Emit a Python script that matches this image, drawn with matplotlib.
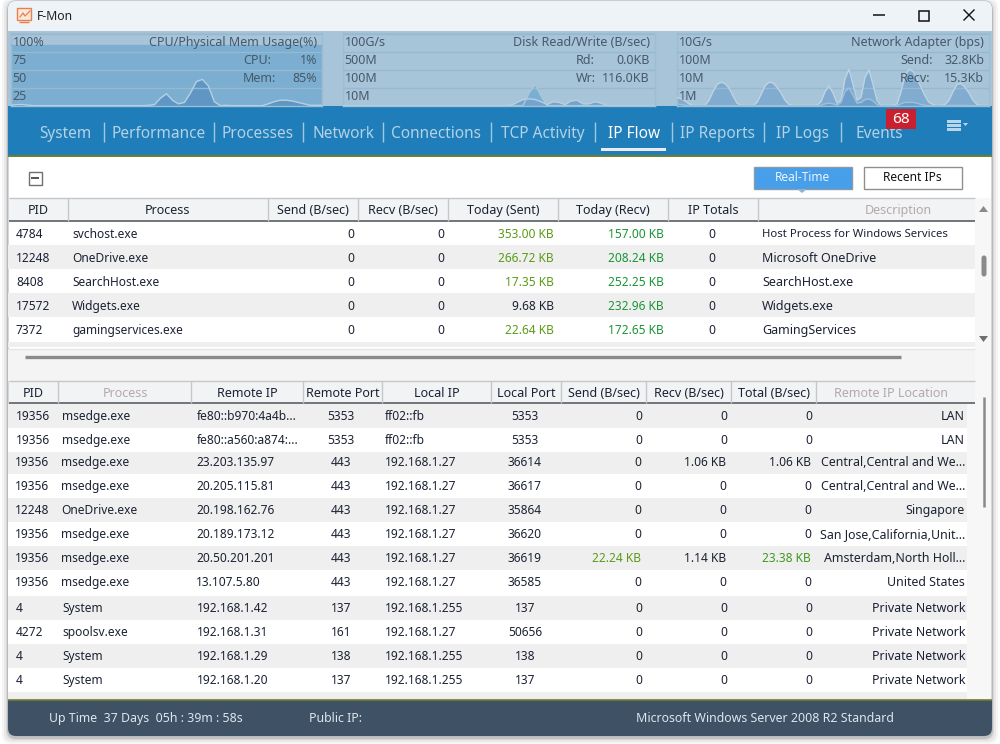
import matplotlib
matplotlib.use("Agg")
import matplotlib.pyplot as plt
from matplotlib.patches import Rectangle, FancyBboxPatch, Polygon
import numpy as np

plt.rcParams['font.family'] = ['Noto Sans', 'DejaVu Sans']

# ---------- data ----------
cpu_usage = [1,2,2,1,0.5,0.5,0.5,0.5,0.5,0.5,0.5,0.5,0.5,0.5,0.5,0.5,0.5,0.5,0.5,0.5,0.5,0.5,0.5,1,
             2,11,17,8,3,5,18,34,37,28,6,0.5,1,0.5,0.5,0.5,0.5,0.5,0.5,3,6,8,8,7,5,3,1,1,1]
mem_usage = [85,85,85,85,85,85,85,85,85,85,85,85,85,85,85,85,85,85,85,85,85,85,85,85,85,85,
             85,85,85,85,85,85,85,85,85,85,85,85,85,85,85,85,85,85,85,85,85,85,85,85,85,85,85]
disk_read = [0.5,0.5,0.5,0.5,0.5,0.5,0.5,0.5,0.5,0.5,0.5,0.5,0.5,0.5,0.5,0.5,0.5,0.5,0.5,0.5,0.5,0.5,0.5,0.5,0.5,0.5,0.5,0.5,
             0.5,0.5,0.5,18,30,14,0.5,0.5,0.5,0.5,0.5,0.5,0.5,0.5,0.5,0.5,0.5,0.5,0.5,0.5,0.5,0.5,0.5,0.5,0.5]
disk_write = [0.5,0.5,0.5,0.5,0.5,0.5,0.5,0.5,0.5,0.5,0.5,0.5,0.5,0.5,0.5,0.5,0.5,0.5,0.5,0.5,0.5,0.5,0.5,0.5,0.5,0.5,0.5,0.5,
              1,5,9,10,9,6,2,6,5,2,7,8,3,3,6,4,0.5,0.5,0.5,0.5,0.5,0.5,0.5,0.5,0.5]
net_send = [12,10,7,3,1,1,0.5,1,8,20,30,33,31,25,14,4,1,1,0.5,1,5,16,28,33,32,26,18,8,2,1,1,1,1,1,1,1,
            6,20,28,18,4,8,38,51,30,8,12,40,50,30,8,1,1,1,1,3,20,42,51,48,38,26,14,5,2,1,1,2,8,20,30,31,26,18,8,2,1,1,1]
net_recv = [3,2,1,0.5,0.5,0.5,0.5,0.5,0.5,0.5,0.5,0.5,0.5,0.5,0.5,0.5,0.5,0.5,0.5,0.5,0.5,0.5,0.5,0.5,0.5,0.5,0.5,0.5,0.5,0.5,0.5,0.5,0.5,0.5,0.5,0.5,
            1,3,4,3,1,5,20,25,15,4,5,9,10,7,2,0.5,0.5,0.5,0.5,0.5,3,5,5,5,4,2,1,0.5,0.5,0.5,0.5,0.5,1,1,1,1,1,0.5,0.5,0.5,0.5,0.5,0.5]
cpu_ticks = ["100%", "75", "50", "25"]
disk_ticks = ["100G/s", "500M", "100M", "10M"]
net_ticks = ["10G/s", "100M", "10M", "1M"]
nav_tabs = ["System", "Performance", "Processes", "Network", "Connections", "TCP Activity",
            "IP Flow", "IP Reports", "IP Logs", "Events"]
top_headers = ["PID", "Process", "Send (B/sec)", "Recv (B/sec)", "Today (Sent)", "Today (Recv)", "IP Totals", "Description"]
top_pid = ["4784", "12248", "8408", "17572", "7372"]
top_process = ["svchost.exe", "OneDrive.exe", "SearchHost.exe", "Widgets.exe", "gamingservices.exe"]
top_send = ["0", "0", "0", "0", "0"]
top_recv = ["0", "0", "0", "0", "0"]
top_sent_today = ["353.00 KB", "266.72 KB", "17.35 KB", "9.68 KB", "22.64 KB"]
top_recv_today = ["157.00 KB", "208.24 KB", "252.25 KB", "232.96 KB", "172.65 KB"]
top_totals = ["0", "0", "0", "0", "0"]
top_desc = ["Host Process for Windows Services", "Microsoft OneDrive", "SearchHost.exe", "Widgets.exe", "GamingServices"]
bot_headers = ["PID", "Process", "Remote IP", "Remote Port", "Local IP", "Local Port",
               "Send (B/sec)", "Recv (B/sec)", "Total (B/sec)", "Remote IP Location"]
bot_pid = ["19356","19356","19356","19356","12248","19356","19356","19356","4","4272","4","4"]
bot_process = ["msedge.exe","msedge.exe","msedge.exe","msedge.exe","OneDrive.exe","msedge.exe","msedge.exe",
               "msedge.exe","System","spoolsv.exe","System","System"]
bot_remote = ["fe80::b970:4a4b...","fe80::a560:a874:...","23.203.135.97","20.205.115.81","20.198.162.76","20.189.173.12",
              "20.50.201.201","13.107.5.80","192.168.1.42","192.168.1.31","192.168.1.29","192.168.1.20"]
bot_rport = ["5353","5353","443","443","443","443","443","443","137","161","138","137"]
bot_local = ["ff02::fb","ff02::fb","192.168.1.27","192.168.1.27","192.168.1.27","192.168.1.27","192.168.1.27",
             "192.168.1.27","192.168.1.255","192.168.1.27","192.168.1.255","192.168.1.255"]
bot_lport = ["5353","5353","36614","36617","35864","36620","36619","36585","137","50656","138","137"]
bot_send = ["0","0","0","0","0","0","22.24 KB","0","0","0","0","0"]
bot_recv = ["0","0","1.06 KB","0","0","0","1.14 KB","0","0","0","0","0"]
bot_total = ["0","0","1.06 KB","0","0","0","23.38 KB","0","0","0","0","0"]
bot_loc = ["LAN","LAN","Central,Central and We...","Central,Central and We...","Singapore","San Jose,California,Unit...",
           "Amsterdam,North Holl...","United States","Private Network","Private Network","Private Network","Private Network"]

# ---------- layout / style ----------
W, H = 1000, 744
DARK = "#1b2233"
FS = 8.6
HFS = 9.0
fig = plt.figure(figsize=(W/100, H/100), dpi=100, facecolor="#ffffff")
bg = fig.add_axes([0, 0, 1, 1], zorder=0)
bg.set_xlim(0, W); bg.set_ylim(H, 0); bg.axis("off")

def rect(x0, y0, x1, y1, c, z=1, **kw):
    p = Rectangle((x0, y0), x1-x0, y1-y0, fc=c, ec="none", zorder=z, **kw)
    bg.add_patch(p)
    return p

def txt(x, y, s, c=DARK, fs=FS, ha="left", z=5, **kw):
    return bg.text(x, y+2.1, s, color=c, fontsize=fs, ha=ha, va="center", zorder=z, **kw)

def hline(x0, x1, y, c, lw=1, z=4):
    bg.plot([x0, x1], [y, y], color=c, lw=lw, zorder=z, solid_capstyle="butt")

def vline(x, y0, y1, c, lw=1, z=4):
    bg.plot([x, x], [y0, y1], color=c, lw=lw, zorder=z, solid_capstyle="butt")

# window + shadow
for grow, a in [(6, .04), (4, .05), (2, .07), (1, .10)]:
    bg.add_patch(FancyBboxPatch((8-grow, 2-grow+2), 984+2*grow, 734+2*grow,
                                boxstyle="round,pad=0,rounding_size=9", fc="#000000", ec="none", alpha=a, zorder=0.5))
win = FancyBboxPatch((8, 1), 984, 735, boxstyle="round,pad=0,rounding_size=8", fc="#ffffff", ec="#b4b6b8", lw=0.8, zorder=1)
bg.add_patch(win)

# title bar
t = rect(8, 1, 992, 31, "#eef3f8", 1.1); t.set_clip_path(win)
bg.add_patch(Rectangle((17, 8), 14, 12, fc="#fbe9dc", ec="#e8804a", lw=1, zorder=3))
bg.plot([20, 23, 25, 30], [17, 13, 16, 11], color="#e8804a", lw=0.9, zorder=4)
hline(19, 29, 22, "#e8804a", 1)
txt(37, 14.5, "F-Mon", c="#222222", fs=8.8)
hline(873, 885, 15, "#111111", 1.1)
bg.add_patch(Rectangle((918.5, 10.5), 10, 10, fc="none", ec="#111111", lw=1.1, zorder=4))
bg.plot([964, 974], [10, 20], color="#111111", lw=1.0, zorder=4)
bg.plot([964, 974], [20, 10], color="#111111", lw=1.0, zorder=4)

# monitor band
rect(8, 31, 992, 106, "#a8c4d8", 1.2)

PFS = 9.0
def panel(x0, x1, series, ticks, title, rows):
    ax = fig.add_axes([x0/W, 1-106/H, (x1-x0)/W, 73/H], zorder=2)
    ax.set_facecolor("none")
    for s in ax.spines.values():
        s.set_color("#9dbdd2"); s.set_linewidth(1)
    ax.set_ylim(0, 101.4)
    for vals, fc, lc in series:
        xs = np.arange(len(vals))
        ax.fill_between(xs, 0, vals, color=fc, lw=0, zorder=2)
        ax.plot(xs, vals, color=lc, lw=1, zorder=3)
        ax.set_xlim(0, len(vals)-1)
    ax.set_yticks([25, 50, 75, 100])
    ax.set_xticks([])
    ax.tick_params(left=False, labelleft=False)
    ax.grid(axis="y", color="#97b9d0", lw=1, zorder=4)
    ax.set_axisbelow(False)
    tc = "#46596a"
    off = -8.5
    for lab, v in zip(ticks, [100, 75, 50, 25]):
        ax.annotate(lab, (0, v), xytext=(1.5, off), textcoords="offset pixels", xycoords=("axes fraction", "data"),
                    color=tc, fontsize=PFS, va="center", ha="left", zorder=6)
    ax.annotate(title, (1, 100), xytext=(-5, off), textcoords="offset pixels", xycoords=("axes fraction", "data"),
                color=tc, fontsize=PFS, va="center", ha="right", zorder=6)
    for (lab, val), v, dx in rows:
        ax.annotate(val, (1, v), xytext=(-5, off), textcoords="offset pixels", xycoords=("axes fraction", "data"),
                    color=tc, fontsize=PFS, va="center", ha="right", zorder=6)
        ax.annotate(lab, (1, v), xytext=(-dx, off), textcoords="offset pixels", xycoords=("axes fraction", "data"),
                    color=tc, fontsize=PFS, va="center", ha="left", zorder=6)
    return ax

panel(11, 322, [(mem_usage, "#7baed0", "#7baed0"), (cpu_usage, "#5f96c4", "#b5d0e2")],
      cpu_ticks, "CPU/Physical Mem Usage(%)", [(("CPU:", "1%"), 75, 79), (("Mem:", "85%"), 50, 79)])
panel(343, 655, [(disk_read, "#7aaed2", "#a8c8dc"), (disk_write, "#74a4cb", "#b5d0e2")],
      disk_ticks, "Disk Read/Write (B/sec)", [(("Rd:", "0.0KB"), 75, 79), (("Wr:", "116.0KB"), 50, 79)])
panel(677, 989, [(net_send, "#81abcf", "#bcd4e4"), (net_recv, "#6c9fcb", "#9fc0da")],
      net_ticks, "Network Adapter (bps)", [(("Send:", "32.8Kb"), 75, 89), (("Recv:", "15.3Kb"), 50, 89)])

# navigation
rect(8, 106, 992, 156, "#1f7eb9", 1.3)
hline(8, 992, 156, "#6d7f2a", 1.4)
tab_x = [65.5, 158.5, 258, 343, 436.5, 542.5, 634, 717.5, 802, 879.5]
for s, x in zip(nav_tabs, tab_x):
    txt(x, 131.5, s, c="#ffffff" if s == "IP Flow" else "#b3d2e6", fs=11.1, ha="center")
for x in [104, 214, 303, 383, 491, 595, 672, 764, 841]:
    vline(x, 122, 142, "#a3c7de", 1)
rect(601, 148, 666, 151, "#ececec", 4)
rect(886, 109, 916, 129, "#c8202e", 6)
txt(901, 117.5, "68", c="#ffffff", fs=11, ha="center", z=7)
for y in (120, 124, 128):
    rect(947, y, 961, y+3, "#b7d6ea", 4)
bg.add_patch(Polygon([[963, 123], [968, 123], [965.5, 126]], fc="#b7d6ea", ec="none", zorder=4))

# toolbar
bg.add_patch(Rectangle((28.5, 171.5), 13, 13, fc="#ffffff", ec="#6f6f6f", lw=1, zorder=3))
hline(31, 39, 178, "#555555", 1.4)
bg.add_patch(Rectangle((753.5, 166.5), 98, 22, fc="#479ee9", ec="#8a9aa8", lw=1, zorder=3))
bg.add_patch(Polygon([[797, 189], [807, 189], [802, 193]], fc="#8fb2d0", ec="none", zorder=3))
txt(802, 175.5, "Real-Time", c="#eaf4fc", ha="center")
bg.add_patch(Rectangle((863.5, 166.5), 98, 22, fc="#ffffff", ec="#8f8f8f", lw=1, zorder=3))
txt(912, 175.5, "Recent IPs", c="#111111", ha="center")

# splitter + side areas
rect(8, 349, 975, 381, "#f4f4f4", 1.4)
rect(975, 198, 991, 700, "#f7f7f7", 1.4)
rect(8, 342, 975, 347, "#efefef", 1.5)
hline(8, 975, 348.5, "#e4e4e4", 1)
hline(25, 901, 356.5, "#8a8a8a", 2.4)

def header(y0, y1, edges, labels, muted):
    rect(9, y0, edges[-1], y1, "#f1f3f5", 2)
    hline(9, edges[-1], y0, "#c4c6c8", 1)
    hline(9, edges[-1], y1, "#5a5f63", 1.2)
    for i, lab in enumerate(labels):
        if 0 < i:
            vline(edges[i], y0, y1, "#c5c8cb", 1)
        cx = muted.get(lab) or (edges[i]+edges[i+1])/2
        is_muted = lab in muted
        txt(cx, (y0+y1)/2 - 1, lab, c="#b5a9a9" if is_muted else DARK, ha="center", fs=HFS)

# top table
top_edges = [9, 68, 268, 358, 448, 558, 668, 758, 975]
header(198, 221, top_edges, top_headers, {"Description": 898})
top_y = [232, 256, 280, 304, 328]
for y, i in zip(top_y, range(5)):
    if i % 2 == 1:
        rect(8, y-11, 975, y+13, "#efefef", 1.6)
    txt(16, y, top_pid[i])
    txt(72, y, top_process[i])
    txt(354, y, top_send[i], ha="right")
    txt(444, y, top_recv[i], ha="right")
    txt(554, y, top_sent_today[i], ha="right", c=DARK if top_sent_today[i] == "9.68 KB" else "#5c9a18")
    txt(664, y, top_recv_today[i], ha="right", c="#1a9636")
    txt(712, y, top_totals[i], ha="center")
    txt(762, y, top_desc[i], fs=8.15 if len(top_desc[i]) > 25 else 9.0)
bg.add_patch(Polygon([[979, 212], [988, 212], [983.5, 206]], fc="#8a8a8a", ec="none", zorder=3))
bg.add_patch(Polygon([[979, 336], [988, 336], [983.5, 342]], fc="#6f6f6f", ec="none", zorder=3))
bg.add_patch(FancyBboxPatch((981.5, 255.5), 5, 21, boxstyle="round,pad=0,rounding_size=2.5", fc="#8a8a8a", ec="none", zorder=3))

# bottom table
bot_edges = [9, 58, 191, 303, 382, 491, 561, 646, 731, 816, 975]
header(381, 403, bot_edges, bot_headers, {"Process": 125, "Remote IP Location": 891})
rect(8, 404, 975, 700, "#ffffff", 1.5)
rect(967, 404, 975, 700, "#f7f7f7", 1.55)
bot_y = [414, 438, 460, 484, 508, 532, 556, 580, 606, 630, 654, 678]
band_edges = [404, 428, 452, 474, 498, 522, 546, 570, 596, 620, 644, 668, 692, 700]
for j in range(0, len(band_edges)-1, 2):
    rect(8, band_edges[j], 967, band_edges[j+1], "#efefef", 1.6)
for i, y in enumerate(bot_y):
    d = -1 if 2 <= i <= 7 else 0
    txt(16+d, y, bot_pid[i])
    txt(62+d, y, bot_process[i])
    txt(197+d, y, bot_remote[i])
    txt(341, y, bot_rport[i], ha="center")
    txt(385, y, bot_local[i])
    txt(525, y, bot_lport[i], ha="center")
    txt(642+d, y, bot_send[i], ha="right", c="#5c9a18" if bot_send[i] != "0" else DARK)
    txt(727+d, y, bot_recv[i], ha="right")
    txt(812+d, y, bot_total[i], ha="right", c="#3f9a20" if bot_total[i] == "23.38 KB" else DARK)
    txt(965, y, bot_loc[i], ha="right", fs=8.95)
vline(984, 397, 507, "#8a8a8a", 1.8)

# footer
f = rect(8, 700, 992, 737, "#3e5165", 3); f.set_clip_path(win)
hline(8, 992, 700, "#6d7f2a", 1.2)
txt(49, 716.5, "Up Time  37 Days  05h : 39m : 58s", c="#dde6ee", fs=8.9)
txt(309, 716.5, "Public IP:", c="#dde6ee", fs=8.9)
txt(636, 716.5, "Microsoft Windows Server 2008 R2 Standard", c="#dde6ee", fs=8.95)

fig.savefig("out.png", dpi=100, facecolor="#ffffff")
